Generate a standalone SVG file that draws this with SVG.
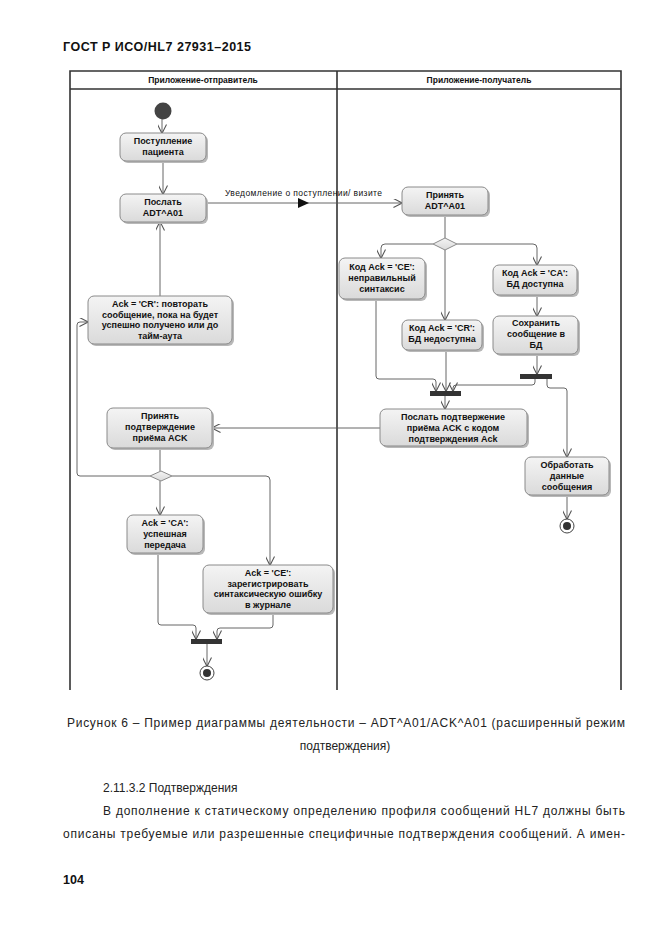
<svg xmlns="http://www.w3.org/2000/svg" width="661" height="935" viewBox="0 0 661 935">
<defs>
<linearGradient id="g" x1="0" y1="0" x2="0" y2="1">
<stop offset="0" stop-color="#f4f4f4"/>
<stop offset="1" stop-color="#dadada"/>
</linearGradient>
<marker id="a" viewBox="0 0 10 10" refX="9.5" refY="5" markerWidth="9" markerHeight="9" markerUnits="userSpaceOnUse" orient="auto">
<path d="M0,0 L10,5 L0,10" fill="none" stroke="#555" stroke-width="1.2"/>
</marker>
</defs>
<style>
.n rect.s{fill:#b8b8b8;}
.n rect.b{fill:url(#g);stroke:#8a8a8a;stroke-width:1;}
.t{font-family:"Liberation Sans",Arial,sans-serif;font-size:9px;font-weight:bold;fill:#111;text-anchor:middle;}
.c path,.c line{fill:none;stroke:#555;stroke-width:0.9;}
.c .ar{marker-end:url(#a);}
.lane{fill:none;stroke:#333;stroke-width:1.6;}
.body{font-family:"Liberation Sans",Arial,sans-serif;font-size:12px;fill:#222;}
</style>
<rect width="661" height="935" fill="#fff"/>
<text x="63" y="51" style="font-family:'Liberation Sans',Arial,sans-serif;font-size:12.5px;font-weight:bold;fill:#111" textLength="188">ГОСТ Р ИСО/HL7 27931–2015</text>

<g id="swimlanes">
<path class="lane" d="M70,690 V71 H621 V690 M70,89 H621 M337,71 V690"/>
<text class="t" x="203" y="83" style="font-size:8.5px">Приложение-отправитель</text>
<text class="t" x="479" y="83" style="font-size:8.5px">Приложение-получатель</text>
</g>

<g class="c" id="connectors">
<line class="ar" x1="162" y1="119" x2="162" y2="133"/>
<line class="ar" x1="163" y1="161" x2="163" y2="194"/>
<line class="ar" x1="206" y1="203" x2="402" y2="203"/>
<polygon points="298,198 309,203 298,208" fill="#111" stroke="none"/>
<line class="ar" x1="160" y1="296" x2="160" y2="222"/>
<line x1="445" y1="215" x2="445" y2="238"/>
<path class="ar" d="M433,244 H385 Q381,244 381,248 V258"/>
<line class="ar" x1="445" y1="250" x2="445" y2="320"/>
<path class="ar" d="M457,244 H533 Q537,244 537,248 V265"/>
<line class="ar" x1="537" y1="295" x2="537" y2="316"/>
<line class="ar" x1="537" y1="355" x2="537" y2="374"/>
<path class="ar" d="M376,300 V376 Q376,379 379,379 H433 Q436,379 436,382 V391"/>
<line class="ar" x1="446" y1="352" x2="446" y2="391"/>
<path class="ar" d="M535,379 V382 Q535,385 532,385 H456 Q453,385 453,388 V391"/>
<path class="ar" d="M547,379 V385 Q547,388 550,388 H564 Q567,388 567,391 V457"/>
<line class="ar" x1="567" y1="495" x2="567" y2="519"/>
<line class="ar" x1="445" y1="396" x2="445" y2="409"/>
<line class="ar" x1="380" y1="428" x2="212" y2="428"/>
<line x1="160" y1="448" x2="160" y2="471"/>
<path class="ar" d="M150,476 H80 Q77,476 77,473 V325 Q77,322 80,322 H88"/>
<path class="ar" d="M172,476 H266 Q270,476 270,480 V565"/>
<line class="ar" x1="160" y1="481" x2="160" y2="515"/>
<path class="ar" d="M158,553 V622 Q158,625 161,625 H193 Q196,625 196,628 V639"/>
<path class="ar" d="M273,613 V625 Q273,628 270,628 H220 Q217,628 217,631 V639"/>
<line class="ar" x1="207" y1="644" x2="207" y2="666"/>
</g>

<g id="start"><circle cx="163" cy="111" r="8.5" fill="#444"/></g>

<g id="n1" class="n">
<rect class="s" x="122" y="135" width="86" height="28" rx="6"/>
<rect class="b" x="120" y="133" width="86" height="28" rx="6"/>
<text class="t" x="163" y="144">Поступление</text>
<text class="t" x="163" y="155">пациента</text>
</g>
<g id="n2" class="n">
<rect class="s" x="122" y="196" width="86" height="28" rx="6"/>
<rect class="b" x="120" y="194" width="86" height="28" rx="6"/>
<text class="t" x="163" y="205">Послать</text>
<text class="t" x="163" y="216">ADT^A01</text>
</g>
<g id="msg"><text x="225" y="196" style="font-family:'Liberation Sans',Arial,sans-serif;font-size:8.5px;fill:#111" textLength="157">Уведомление о поступлении/ визите</text></g>
<g id="n3" class="n">
<rect class="s" x="404" y="189" width="86" height="28" rx="6"/>
<rect class="b" x="402" y="187" width="86" height="28" rx="6"/>
<text class="t" x="445" y="198">Принять</text>
<text class="t" x="445" y="209">ADT^A01</text>
</g>
<g id="d1"><polygon points="433,244 445,238 457,244 445,250" fill="url(#g)" stroke="#8a8a8a"/></g>
<g id="n4" class="n">
<rect class="s" x="341" y="260" width="86" height="41" rx="6"/>
<rect class="b" x="339" y="258" width="86" height="41" rx="6"/>
<text class="t" x="382" y="270">Код Ack = 'CE':</text>
<text class="t" x="382" y="281">неправильный</text>
<text class="t" x="382" y="292">синтаксис</text>
</g>
<g id="n5" class="n">
<rect class="s" x="404" y="322" width="80" height="30" rx="6"/>
<rect class="b" x="402" y="320" width="80" height="30" rx="6"/>
<text class="t" x="442" y="331">Код Ack = 'CR':</text>
<text class="t" x="442" y="342">БД недоступна</text>
</g>
<g id="n6" class="n">
<rect class="s" x="495" y="267" width="84" height="30" rx="6"/>
<rect class="b" x="493" y="265" width="84" height="30" rx="6"/>
<text class="t" x="535" y="276">Код Ack = 'CA':</text>
<text class="t" x="535" y="287">БД доступна</text>
</g>
<g id="n7" class="n">
<rect class="s" x="495" y="318" width="85" height="38" rx="6"/>
<rect class="b" x="493" y="316" width="85" height="38" rx="6"/>
<text class="t" x="536" y="326">Сохранить</text>
<text class="t" x="536" y="337">сообщение в</text>
<text class="t" x="536" y="348">БД</text>
</g>
<g id="bar1"><rect x="520" y="374" width="32" height="5" fill="#333"/></g>
<g id="bar2"><rect x="430" y="391" width="31" height="5" fill="#333"/></g>
<g id="n8" class="n">
<rect class="s" x="382" y="411" width="147" height="37" rx="6"/>
<rect class="b" x="380" y="409" width="147" height="37" rx="6"/>
<text class="t" x="453" y="420">Послать подтвержение</text>
<text class="t" x="453" y="431">приёма ACK с кодом</text>
<text class="t" x="453" y="442">подтверждения Ack</text>
</g>
<g id="n9" class="n">
<rect class="s" x="527" y="459" width="84" height="38" rx="6"/>
<rect class="b" x="525" y="457" width="84" height="38" rx="6"/>
<text class="t" x="567" y="468">Обработать</text>
<text class="t" x="567" y="479">данные</text>
<text class="t" x="567" y="490">сообщения</text>
</g>
<g id="end1"><circle cx="567" cy="526" r="7" fill="#fff" stroke="#444"/><circle cx="567" cy="526" r="4" fill="#333"/></g>
<g id="n10" class="n">
<rect class="s" x="90" y="298" width="144" height="48" rx="6"/>
<rect class="b" x="88" y="296" width="144" height="48" rx="6"/>
<text class="t" x="160" y="307">Ack = 'CR': повторать</text>
<text class="t" x="160" y="317.5">сообщение, пока на будет</text>
<text class="t" x="160" y="328">успешно получено или до</text>
<text class="t" x="160" y="338.5">тайм-аута</text>
</g>
<g id="n11" class="n">
<rect class="s" x="109" y="410" width="105" height="40" rx="6"/>
<rect class="b" x="107" y="408" width="105" height="40" rx="6"/>
<text class="t" x="160" y="419">Принять</text>
<text class="t" x="160" y="430">подтверждение</text>
<text class="t" x="160" y="441">приёма ACK</text>
</g>
<g id="d2"><polygon points="150,476 161,471 172,476 161,481" fill="url(#g)" stroke="#8a8a8a"/></g>
<g id="n12" class="n">
<rect class="s" x="129" y="517" width="76" height="38" rx="6"/>
<rect class="b" x="127" y="515" width="76" height="38" rx="6"/>
<text class="t" x="165" y="526">Ack = 'CA':</text>
<text class="t" x="165" y="537">успешная</text>
<text class="t" x="165" y="548">передача</text>
</g>
<g id="n13" class="n">
<rect class="s" x="205" y="567" width="130" height="48" rx="6"/>
<rect class="b" x="203" y="565" width="130" height="48" rx="6"/>
<text class="t" x="268" y="576">Ack = 'CE':</text>
<text class="t" x="268" y="586.5">зарегистрировать</text>
<text class="t" x="268" y="597">синтаксическую ошибку</text>
<text class="t" x="268" y="607.5">в журнале</text>
</g>
<g id="bar3"><rect x="191" y="639" width="31" height="5" fill="#333"/></g>
<g id="end2"><circle cx="207" cy="673" r="7" fill="#fff" stroke="#444"/><circle cx="207" cy="673" r="4" fill="#333"/></g>

<text class="body" x="67" y="727" textLength="558">Рисунок 6 – Пример диаграммы деятельности – ADT^A01/ACK^A01 (расширенный режим</text>
<text class="body" x="345" y="750" text-anchor="middle">подтверждения)</text>
<text class="body" x="103" y="792">2.11.3.2 Подтверждения</text>
<text class="body" x="103" y="815" textLength="522">В дополнение к статическому определению профиля сообщений HL7 должны быть</text>
<text class="body" x="63" y="838" textLength="562">описаны требуемые или разрешенные специфичные подтверждения сообщений. А имен-</text>
<text x="63" y="884" style="font-family:'Liberation Sans',Arial,sans-serif;font-size:12.5px;font-weight:bold;fill:#111">104</text>
</svg>
